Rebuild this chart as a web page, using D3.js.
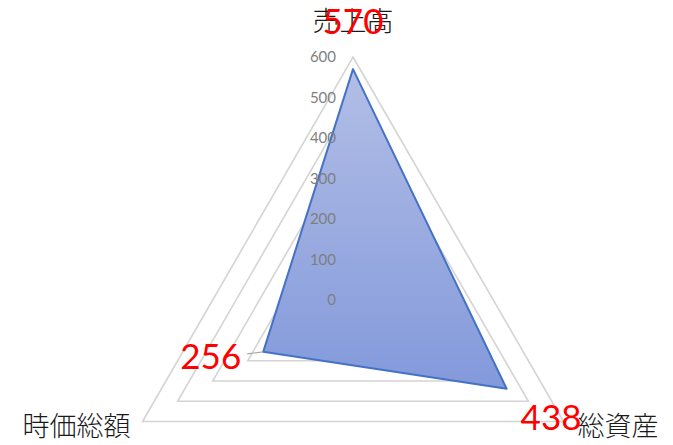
<!DOCTYPE html>
<html>
<head>
<meta charset="utf-8">
<script src="https://cdn.jsdelivr.net/npm/d3@7"></script>
<style>
  body { margin: 0; background: #fff; }
  .grid { fill: none; stroke: #d4d4d4; stroke-width: 1.6; }
  .area { stroke: #4472c4; stroke-width: 2; stroke-linejoin: round; }
  .tick text { fill: #7f7f7f; font-family: Lato, "Liberation Sans", sans-serif; font-size: 15px; }
  .cat { font-family: "Noto Sans CJK JP", sans-serif; font-size: 27px; font-weight: 300; fill: #1a1a1a; }
  .val { font-family: Lato, "Liberation Sans", sans-serif; font-size: 35px; fill: #ff0000; }
</style>
</head>
<body>
<div class="app"></div>
<script>
'use strict'

var width = 673;
var height = 445;

// данные
var categories = ["売上高", "総資産", "時価総額"];
var values = [570, 438, 256];
var tickValues = [0, 100, 200, 300, 400, 500, 600];

var cx = 353, cy = 300, radius = 243;

var svg = d3.select(".app")
  .append("svg")
  .attr("width", width)
  .attr("height", height);

var r = d3.scaleLinear().domain([0, 600]).range([0, radius]);

var angle = function(i) { return i * 2 * Math.PI / categories.length; };

var radial = d3.lineRadial()
  .curve(d3.curveLinearClosed)
  .angle(function(d, i) { return angle(i); })
  .radius(function(d) { return r(d); });

var g = svg.append("g").attr("transform", "translate(" + cx + "," + cy + ")");

// gradient fill
var grad = svg.append("defs").append("linearGradient")
  .attr("id", "fillGrad")
  .attr("x1", 0).attr("y1", 0).attr("x2", 0).attr("y2", 1);
grad.append("stop").attr("offset", "0%").attr("stop-color", "#b2bee6");
grad.append("stop").attr("offset", "100%").attr("stop-color", "#8399db");

// grid triangles
g.selectAll("path.grid")
  .data(tickValues.filter(function(t) { return t > 0; }))
  .enter().append("path")
  .attr("class", "grid")
  .attr("d", function(t) { return radial(categories.map(function() { return t; })); });

// data polygon
g.append("path")
  .attr("class", "area")
  .attr("fill", "url(#fillGrad)")
  .attr("d", radial(values));

// radial axis labels
var yScale = d3.scaleLinear().domain([0, 600]).range([0, -radius]);
var yAxis = d3.axisLeft(yScale).tickValues(tickValues).tickSize(0).tickPadding(17);
g.append("g").attr("class", "y-axis").call(yAxis)
  .call(function(s) { s.select(".domain").remove(); });

function pt(i, v) {
  var a = angle(i);
  return [r(v) * Math.sin(a), -r(v) * Math.cos(a)];
}

// category labels
var catPos = [
  {dx: 0, dy: -38, anchor: "middle"},
  {dx: 14, dy: 3, anchor: "start"},
  {dx: -12, dy: 3, anchor: "end"}
];
g.selectAll("text.cat")
  .data(categories)
  .enter().append("text")
  .attr("class", "cat")
  .attr("x", function(d, i) { return pt(i, 600)[0] + catPos[i].dx; })
  .attr("y", function(d, i) { return pt(i, 600)[1] + catPos[i].dy; })
  .attr("text-anchor", function(d, i) { return catPos[i].anchor; })
  .attr("dominant-baseline", "central")
  .text(function(d) { return d; });

// value labels
var valPos = [
  {dx: 0, dy: -49, anchor: "middle"},
  {dx: 14, dy: 27, anchor: "start"},
  {dx: -22, dy: 3, anchor: "end"}
];

// leader line for the bottom-left label
var p2 = pt(2, values[2]);
g.append("line")
  .attr("x1", p2[0] - 16).attr("y1", p2[1] + 2)
  .attr("x2", p2[0]).attr("y2", p2[1])
  .attr("stroke", "#a6a6a6").attr("stroke-width", 1.2);

g.selectAll("text.val")
  .data(values)
  .enter().append("text")
  .attr("class", "val")
  .attr("x", function(d, i) { return pt(i, d)[0] + valPos[i].dx; })
  .attr("y", function(d, i) { return pt(i, d)[1] + valPos[i].dy; })
  .attr("text-anchor", function(d, i) { return valPos[i].anchor; })
  .attr("dominant-baseline", "central")
  .text(function(d) { return d; });
</script>
</body>
</html>
